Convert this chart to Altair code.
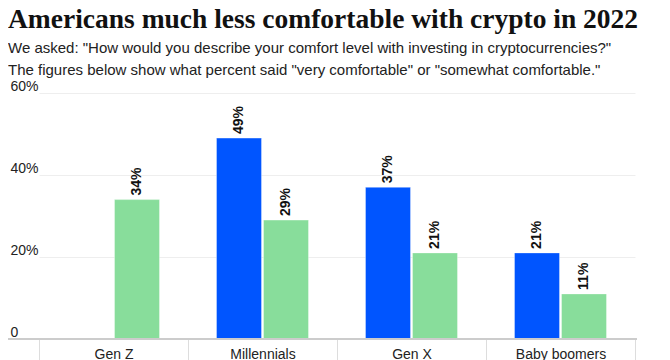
import altair as alt
import pandas as pd

generations = ["Gen Z", "Millennials", "Gen X", "Baby boomers"]
years = ["2021", "2022"]
pct_2021 = [None, 49, 37, 21]
pct_2022 = [34, 29, 21, 11]
y_ticks = [0, 20, 40, 60]
colors = ["#0055FF", "#88DD9B"]

title_text = "Americans much less comfortable with crypto in 2022"
subtitle_lines = [
    "We asked: \"How would you describe your comfort level with investing in cryptocurrencies?\"",
    "The figures below show what percent said \"very comfortable\" or \"somewhat comfortable.\"",
]

rows = []
for g, a, b in zip(generations, pct_2021, pct_2022):
    if a is not None:
        rows.append({"gen": g, "year": years[0], "pct": a})
    if b is not None:
        rows.append({"gen": g, "year": years[1], "pct": b})
df = pd.DataFrame(rows)
df["label"] = df["pct"].astype(str) + "%"

x_enc = alt.X(
    "gen:N",
    sort=generations,
    scale=alt.Scale(domain=generations, range=[31, 627], paddingInner=0, paddingOuter=0),
    axis=alt.Axis(
        title=None, domain=False, tickBand="extent", tickSize=22, tickColor="#dddddd",
        tickWidth=1, labelPadding=-14, labelAngle=0, labelFont="Liberation Sans",
        labelFontSize=14, labelColor="#222222", labelBaseline="top",
    ),
)
xoff_enc = alt.XOffset(
    "year:N", scale=alt.Scale(domain=years, paddingInner=0.0426, paddingOuter=0.6064)
)
y_enc = alt.Y(
    "pct:Q",
    scale=alt.Scale(domain=[0, 60], nice=False),
    axis=alt.Axis(
        title=None, values=y_ticks, domain=False, ticks=False, tickSize=0,
        labelAlign="left", labelPadding=-2, labelBaseline="alphabetic", labelOffset=-3,
        labelExpr="datum.value == 0 ? '0' : datum.value + '%'",
        labelFont="Liberation Sans", labelFontSize=14, labelColor="#222222",
        gridColor="#eeeeee", gridWidth=1,
    ),
)
color_enc = alt.Color("year:N", scale=alt.Scale(domain=years, range=colors), legend=None)

base = alt.Chart(df)
bars = base.mark_bar(strokeWidth=1, strokeOpacity=0.35, stroke="#ffffff").encode(
    x=x_enc, xOffset=xoff_enc, y=y_enc, color=color_enc
)
labels = base.mark_text(
    angle=270, align="left", baseline="middle", dx=4, font="Liberation Sans",
    fontSize=14, fontWeight="bold", color="#111111",
).encode(x=x_enc, xOffset=xoff_enc, y=y_enc, text="label:N")
baseline = alt.Chart(pd.DataFrame({"v": [0]})).mark_rule(color="#cccccc", strokeWidth=2).encode(
    y=alt.Y("v:Q")
)

chart = alt.layer(bars, labels, baseline).properties(
    width=629,
    height=246,
    autosize="none",
    padding={"left": 0, "top": 85, "right": 25, "bottom": 22},
    title=alt.TitleParams(
        text=title_text,
        subtitle=subtitle_lines,
        anchor="start",
        frame="group",
        font="Liberation Serif",
        fontSize=27.5,
        fontWeight="bold",
        color="#111111",
        subtitleFont="Liberation Sans",
        subtitleFontSize=15,
        subtitleColor="#222222",
        subtitleLineHeight=22.5,
        subtitlePadding=7,
        offset=1,
    ),
).configure_view(stroke=None)

chart.save("out.html", embed_options={"renderer": "svg", "actions": False})
